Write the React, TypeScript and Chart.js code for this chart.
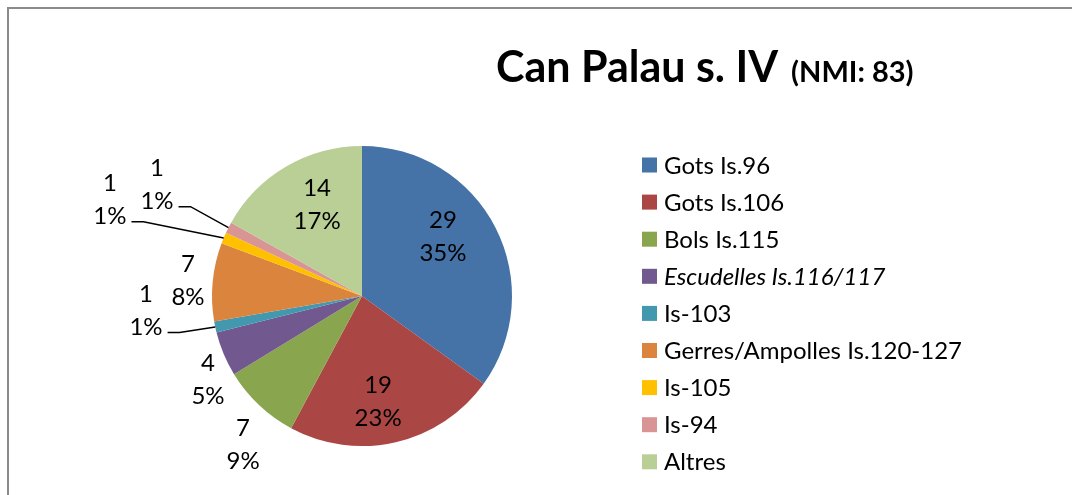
import React, { useEffect, useRef } from "react";
import { Chart, registerables } from "chart.js";

Chart.register(...registerables);

const categories = [
  "Gots Is.96",
  "Gots Is.106",
  "Bols Is.115",
  "Escudelles Is.116/117",
  "Is-103",
  "Gerres/Ampolles Is.120-127",
  "Is-105",
  "Is-94",
  "Altres",
];
const counts = [29, 19, 7, 4, 1, 7, 1, 1, 14];
const percentLabels = ["35%", "23%", "9%", "5%", "1%", "8%", "1%", "1%", "17%"];
const colors = [
  "#4572A7",
  "#AA4643",
  "#89A54E",
  "#71588F",
  "#4198AF",
  "#DB843D",
  "#FFC000",
  "#D99594",
  "#B9CF96",
];
const italicLegend = [false, false, false, true, false, false, false, false, false];
const titleMain = "Can Palau s. IV";
const titleSub = "(NMI: 83)";

// label placement relative to slice mid-angle: angular shift (deg) and radius factor
const labelShift = [-9.7, 4.3, -4.6, -5.5, 8.2, 0, -1.8, 1.5, 4.5];
const labelRadius = [0.674, 0.708, 1.266, 1.166, 1.443, 1.165, 1.8, 1.557, 0.686];
const hasLeader = [false, false, false, false, true, false, true, true, false];
const leaderKink = [0, 0, 0, 0, 12, 0, 12, 12, 0];

const FONT = "Lato, 'Open Sans', sans-serif";

const decorPlugin = {
  id: "decor",
  beforeDraw(chart: any) {
    const ctx = chart.ctx;
    ctx.save();
    ctx.fillStyle = "#ffffff";
    ctx.fillRect(0, 0, chart.width, chart.height);
    ctx.strokeStyle = "#8a8a8a";
    ctx.lineWidth = 2;
    ctx.strokeRect(8, 8, chart.width + 20, chart.height + 20);
    ctx.restore();
  },
  afterDraw(chart: any) {
    const ctx = chart.ctx;
    ctx.save();
    // Title
    ctx.fillStyle = "#000";
    ctx.textBaseline = "alphabetic";
    ctx.textAlign = "left";
    ctx.font = `bold 43px ${FONT}`;
    const tx = 496;
    const ty = 82;
    ctx.fillText(titleMain, tx, ty);
    const w = ctx.measureText(titleMain).width;
    ctx.font = `bold 29px ${FONT}`;
    ctx.fillText(titleSub, tx + w + 13, ty);

    // Legend
    const lx = 642;
    const ly0 = 165;
    const step = 37.1;
    categories.forEach((c, i) => {
      const cy = ly0 + i * step;
      ctx.fillStyle = colors[i];
      ctx.fillRect(lx, cy - 7.5, 15, 15);
      ctx.fillStyle = "#000";
      ctx.font = `${italicLegend[i] ? "italic " : ""}24px ${FONT}`;
      ctx.fillText(c, lx + 22, cy + 8.6);
    });

    // Data labels
    const meta = chart.getDatasetMeta(0);
    ctx.font = `24px ${FONT}`;
    ctx.textAlign = "center";
    meta.data.forEach((arc: any, i: number) => {
      const p = arc.getProps(["x", "y", "startAngle", "endAngle", "outerRadius"], true);
      const mid = (p.startAngle + p.endAngle) / 2;
      const a = mid + (labelShift[i] * Math.PI) / 180;
      const r = p.outerRadius * labelRadius[i];
      const cx = p.x + Math.cos(a) * r;
      const cy = p.y + Math.sin(a) * r;
      const l1 = cy - 16.5;
      const l2 = cy + 16.5;
      ctx.fillStyle = "#000";
      ctx.fillText(String(counts[i]), cx, l1 + 8.6);
      ctx.fillText(percentLabels[i], cx, l2 + 8.6);
      if (hasLeader[i]) {
        const tw = ctx.measureText(percentLabels[i]).width;
        const sx = cx + tw / 2 + 5;
        const sy = l2 + 6;
        const ex = p.x + Math.cos(mid) * p.outerRadius;
        const ey = p.y + Math.sin(mid) * p.outerRadius;
        ctx.strokeStyle = "#000";
        ctx.lineWidth = 1.5;
        ctx.beginPath();
        ctx.moveTo(sx, sy);
        ctx.lineTo(sx + leaderKink[i], sy);
        ctx.lineTo(ex, ey);
        ctx.stroke();
      }
    });
    ctx.restore();
  },
};

export default function App() {
  const ref = useRef<HTMLCanvasElement | null>(null);
  useEffect(() => {
    if (!ref.current) return;
    const chart = new Chart(ref.current, {
      type: "pie",
      data: {
        labels: categories,
        datasets: [
          {
            data: counts,
            backgroundColor: colors,
            borderWidth: 0,
          },
        ],
      },
      options: {
        animation: false,
        responsive: false,
        maintainAspectRatio: false,
        layout: { padding: { left: 212, right: 560, top: 146, bottom: 49 } },
        plugins: {
          legend: { display: false },
          title: { display: false },
          tooltip: { enabled: false },
        },
      },
      plugins: [decorPlugin],
    });
    return () => chart.destroy();
  }, []);
  return (
    <div style={{ position: "fixed", left: 0, top: 0, width: 1072, height: 495, background: "#fff" }}>
      <canvas ref={ref} width={1072} height={495} style={{ display: "block" }} />
    </div>
  );
}
